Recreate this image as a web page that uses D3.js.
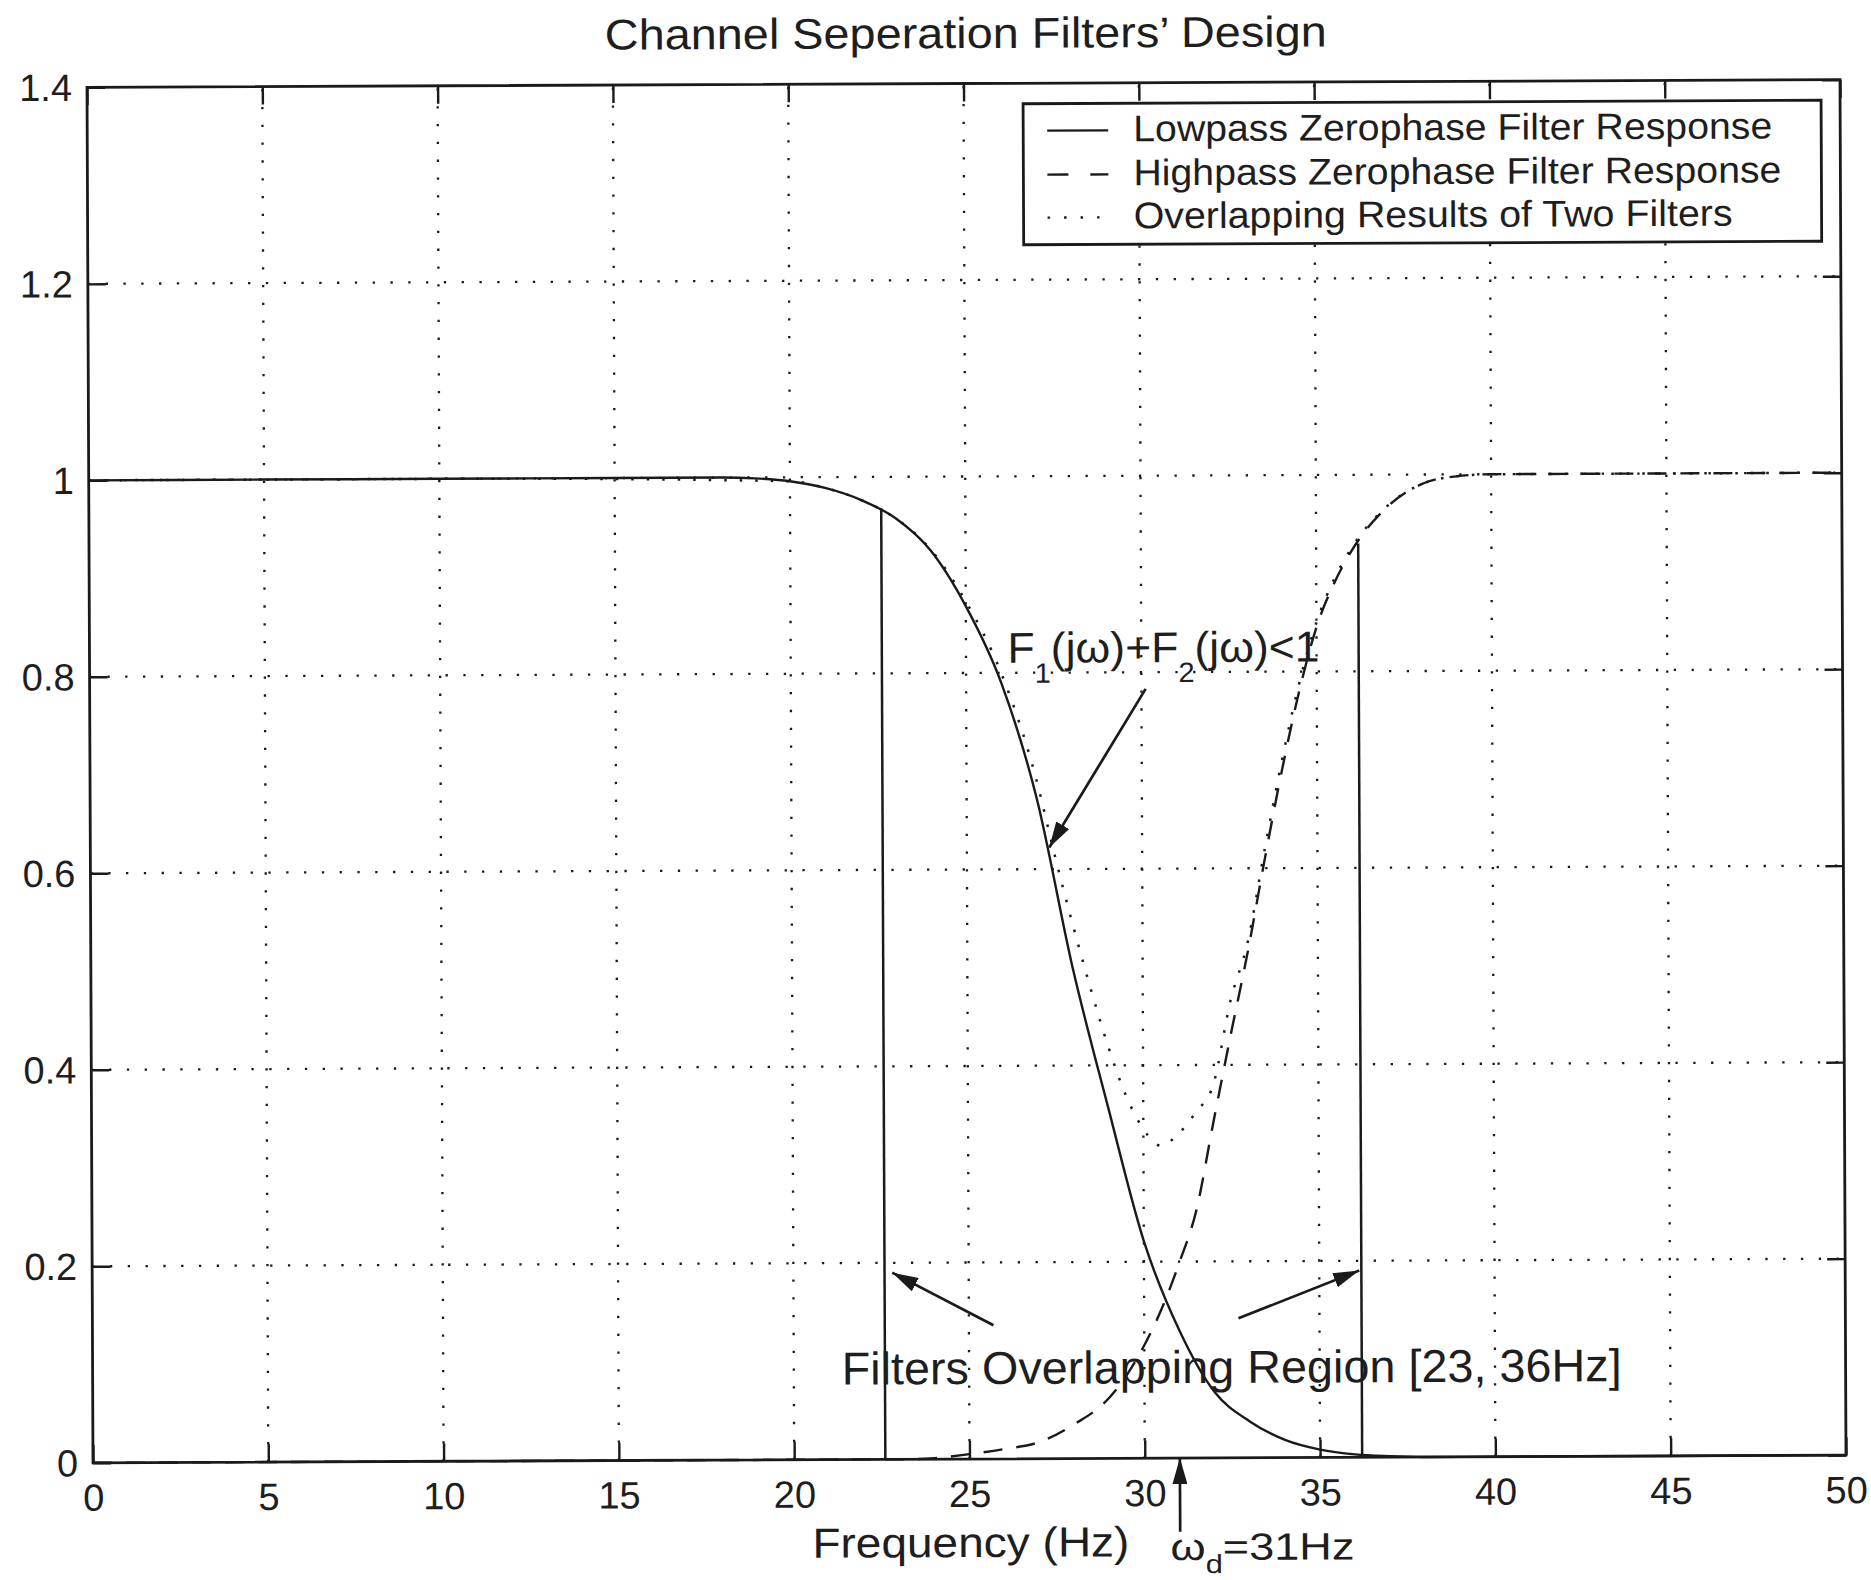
<!DOCTYPE html>
<html>
<head>
<meta charset="utf-8">
<script src="https://cdn.jsdelivr.net/npm/d3@7"></script>
<style>
  html, body { margin: 0; padding: 0; background: #ffffff; }
  svg { display: block; }
  text { font-family: "Liberation Sans", Arial, Helvetica, sans-serif; fill: #1e1e1e; }
</style>
</head>
<body>
<div id="chart"></div>
<script>
// ---------------- data ----------------
const xTicks = [0, 5, 10, 15, 20, 25, 30, 35, 40, 45, 50];
const xTickLabels = ["0", "5", "10", "15", "20", "25", "30", "35", "40", "45", "50"];
const yTicks = [0, 0.2, 0.4, 0.6, 0.8, 1.0, 1.2, 1.4];
const yTickLabels = ["0", "0.2", "0.4", "0.6", "0.8", "1", "1.2", "1.4"];

// Lowpass zerophase filter response (solid)
const lowFreq = [0, 5, 10, 15, 18, 19, 20, 21, 22, 23, 24, 25, 26, 27, 28, 29, 30, 31, 32, 33, 34, 35, 36, 37, 38, 40, 45, 50];
const lowResp = [1, 1, 1, 1, 1, 0.999, 0.996, 0.989, 0.977, 0.958, 0.925, 0.868, 0.79, 0.672, 0.50, 0.357, 0.221, 0.13, 0.067, 0.037, 0.018, 0.008, 0.003, 0.001, 0, 0, 0, 0];

// Highpass zerophase filter response (dashed)
const highFreq = [0, 10, 20, 23, 24, 25, 26, 27, 28, 29, 29.5, 30, 30.5, 31, 31.5, 32, 32.5, 33, 33.5, 34, 34.5, 35, 35.5, 36, 37, 38, 39, 40, 45, 50];
const highResp = [0, 0, 0, 0, 0.001, 0.005, 0.01, 0.017, 0.035, 0.062, 0.085, 0.115, 0.152, 0.198, 0.252, 0.342, 0.43, 0.515, 0.61, 0.70, 0.78, 0.845, 0.889, 0.922, 0.966, 0.99, 0.998, 1, 1, 1];

// Overlapping results of two filters (dotted)
const sumFreq = [0, 10, 20, 21, 22, 23, 24, 25, 26, 27, 27.5, 28, 28.5, 29, 29.5, 30, 30.5, 31, 31.5, 32, 32.5, 33, 33.5, 34, 34.5, 35, 35.5, 36, 37, 38, 39, 40, 45, 50];
const sumResp = [1, 1, 0.996, 0.989, 0.977, 0.958, 0.926, 0.873, 0.80, 0.69, 0.615, 0.545, 0.48, 0.42, 0.37, 0.335, 0.318, 0.33, 0.352, 0.38, 0.465, 0.525, 0.62, 0.71, 0.788, 0.85, 0.893, 0.925, 0.967, 0.99, 0.998, 1, 1, 1];

// Overlapping region boundaries (vertical solid lines)
const regionFreq = [22.6, 36.2];
const regionTop = [0.968, 0.93];

const legendLabels = ["Lowpass Zerophase Filter Response", "Highpass Zerophase Filter Response", "Overlapping Results of Two Filters"];

// annotation arrows (data coordinates: [freq, response])
const arrowFrom = [[30.12, 0.783], [25.7, 0.136], [32.69, 0.142], [31, -0.075]];
const arrowTo   = [[27.35, 0.622], [22.82, 0.19], [36.14, 0.19], [31, 0.0]];

// ---------------- drawing ----------------
const W = 1871, H = 1580;
const L = 90, R = 1843, T = 83.5, B = 1459;
const ink = "#1a1a1a";

const svg = d3.select("#chart").append("svg").attr("width", W).attr("height", H);
const defs = svg.append("defs");
defs.append("marker")
  .attr("id", "ah").attr("viewBox", "0 0 10 10").attr("preserveAspectRatio", "none")
  .attr("markerUnits", "userSpaceOnUse").attr("markerWidth", 26).attr("markerHeight", 15)
  .attr("refX", 10).attr("refY", 5).attr("orient", "auto")
  .append("path").attr("d", "M0,0 L10,5 L0,10 Z").attr("fill", ink);

const root = svg.append("g").attr("transform", "rotate(-0.25, 966, 772)");

const x = d3.scaleLinear().domain([0, 50]).range([L, R]);
const y = d3.scaleLinear().domain([0, 1.4]).range([B, T]);

// grid
const grid = root.append("g").attr("stroke", ink).attr("stroke-width", 2.3).attr("stroke-dasharray", "2.3,15.5");
grid.selectAll("line.gx").data(xTicks.filter(v => v > 0 && v < 50)).enter().append("line")
  .attr("x1", d => x(d)).attr("x2", d => x(d)).attr("y1", B).attr("y2", T);
grid.selectAll("line.gy").data(yTicks.filter(v => v > 0 && v < 1.4)).enter().append("line")
  .attr("y1", d => y(d)).attr("y2", d => y(d)).attr("x1", L).attr("x2", R);

// axes
const tickFont = 38;
const axB = root.append("g").attr("transform", `translate(0,${B})`)
  .call(d3.axisBottom(x).tickValues(xTicks).tickFormat((d, i) => xTickLabels[i]).tickSize(-18).tickSizeOuter(0).tickPadding(21));
const axL = root.append("g").attr("transform", `translate(${L},0)`)
  .call(d3.axisLeft(y).tickValues(yTicks).tickFormat((d, i) => yTickLabels[i]).tickSize(-18).tickSizeOuter(0).tickPadding(15));
const axT = root.append("g").attr("transform", `translate(0,${T})`)
  .call(d3.axisTop(x).tickValues(xTicks).tickFormat("").tickSize(-18).tickSizeOuter(0));
const axR = root.append("g").attr("transform", `translate(${R},0)`)
  .call(d3.axisRight(y).tickValues(yTicks).tickFormat("").tickSize(-18).tickSizeOuter(0));
[axB, axL, axT, axR].forEach(a => {
  a.select(".domain").remove();
  a.selectAll(".tick line").attr("stroke", ink).attr("stroke-width", 2.4);
  a.selectAll(".tick text").attr("font-size", tickFont).attr("fill", ink)
    .attr("font-family", "'Liberation Sans', Arial, Helvetica, sans-serif");
});
axL.selectAll(".tick text").attr("dy", "0.34em");

// frame
root.append("rect").attr("x", L).attr("y", T).attr("width", R - L).attr("height", B - T)
  .attr("fill", "none").attr("stroke", ink).attr("stroke-width", 2.8);

// curves
const line = d3.line().x(d => x(d[0])).y(d => y(d[1])).curve(d3.curveMonotoneX);
const lowData = lowFreq.map((f, i) => [f, lowResp[i]]);
const highData = highFreq.map((f, i) => [f, highResp[i]]);
const sumData = sumFreq.map((f, i) => [f, sumResp[i]]);

root.append("path").datum(sumData).attr("d", line).attr("fill", "none")
  .attr("stroke", ink).attr("stroke-width", 2.5).attr("stroke-dasharray", "2.5,13");
root.append("path").datum(highData).attr("d", line).attr("fill", "none")
  .attr("stroke", ink).attr("stroke-width", 2.4).attr("stroke-dasharray", "19,14");
root.append("path").datum(lowData).attr("d", line).attr("fill", "none")
  .attr("stroke", ink).attr("stroke-width", 2.4);

// region boundary lines
root.selectAll("line.region").data(regionFreq).enter().append("line")
  .attr("x1", d => x(d)).attr("x2", d => x(d))
  .attr("y1", y(0)).attr("y2", (d, i) => y(regionTop[i]))
  .attr("stroke", ink).attr("stroke-width", 2.5);

// annotation arrows
root.selectAll("line.arrow").data(arrowFrom).enter().append("line")
  .attr("x1", d => x(d[0])).attr("y1", d => y(d[1]))
  .attr("x2", (d, i) => x(arrowTo[i][0])).attr("y2", (d, i) => y(arrowTo[i][1]))
  .attr("stroke", ink).attr("stroke-width", 2.7).attr("marker-end", "url(#ah)");

// annotation texts
const fText = root.append("text").attr("x", 1008).attr("y", 663).attr("font-size", 43)
  .attr("textLength", 312).attr("lengthAdjust", "spacingAndGlyphs");
fText.append("tspan").text("F");
fText.append("tspan").attr("dy", 20).attr("font-size", 28).text("1");
fText.append("tspan").attr("dy", -20).text("(jω)+F");
fText.append("tspan").attr("dy", 20).attr("font-size", 28).text("2");
fText.append("tspan").attr("dy", -20).text("(jω)<1");

root.append("text").attr("x", 839).attr("y", 1384).attr("font-size", 46)
  .attr("textLength", 780).attr("lengthAdjust", "spacingAndGlyphs")
  .text("Filters Overlapping Region [23, 36Hz]");

const wText = root.append("text").attr("x", 1167).attr("y", 1561).attr("font-size", 38)
  .attr("textLength", 184).attr("lengthAdjust", "spacingAndGlyphs");
wText.append("tspan").text("ω");
wText.append("tspan").attr("dy", 13).attr("font-size", 26).text("d");
wText.append("tspan").attr("dy", -13).text("=31Hz");

// title and axis label
root.append("text").attr("x", 608).attr("y", 48).attr("font-size", 43)
  .attr("textLength", 722).attr("lengthAdjust", "spacingAndGlyphs")
  .text("Channel Seperation Filters’ Design");
root.append("text").attr("x", 809).attr("y", 1557).attr("font-size", 42)
  .attr("textLength", 317).attr("lengthAdjust", "spacingAndGlyphs")
  .text("Frequency (Hz)");

// legend
const lg = root.append("g");
lg.append("rect").attr("x", 1026).attr("y", 104).attr("width", 798).attr("height", 141)
  .attr("fill", "#ffffff").attr("stroke", ink).attr("stroke-width", 2.8);
const legendDash = [null, "21,22", "2.5,14"];
const legendLen = [639, 648, 599];
const legendBase = [142, 186, 229];
legendLabels.forEach((lab, i) => {
  lg.append("line").attr("x1", 1050).attr("x2", 1111)
    .attr("y1", legendBase[i] - 11).attr("y2", legendBase[i] - 11)
    .attr("stroke", ink).attr("stroke-width", 2.4)
    .attr("stroke-dasharray", legendDash[i]);
  lg.append("text").attr("x", 1136).attr("y", legendBase[i]).attr("font-size", 37)
    .attr("textLength", legendLen[i]).attr("lengthAdjust", "spacingAndGlyphs").text(lab);
});
</script>
</body>
</html>
